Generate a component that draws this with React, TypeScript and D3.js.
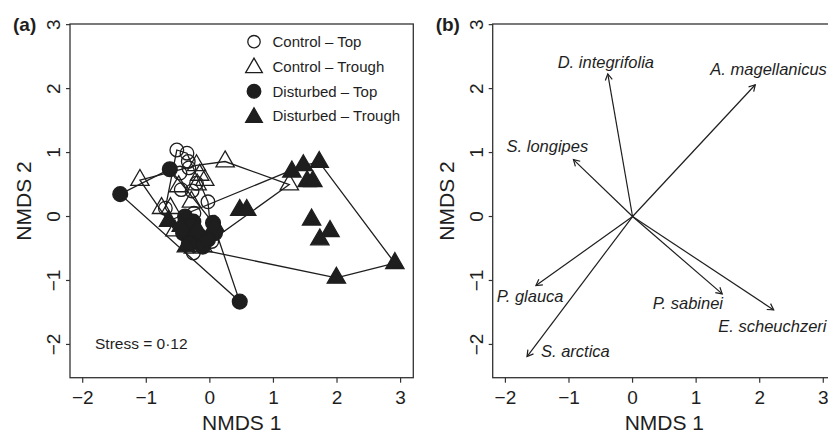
import React from 'react';
import * as d3 from 'd3';

// NMDS scores
const controlTop: [number, number][] = [
  [-0.52, 1.04], [-0.36, 0.99], [-0.34, 0.86], [-0.47, 0.68], [-0.33, 0.76],
  [-0.21, 0.52], [-0.45, 0.42], [-0.28, 0.40], [-0.03, 0.23], [-0.70, 0.13],
  [-0.25, 0.05], [0.03, -0.39], [-0.26, -0.57], [-0.15, -0.30],
];
const controlTrough: [number, number][] = [
  [-1.10, 0.57], [0.24, 0.86], [1.25, 0.50], [-0.21, 0.80], [-0.08, 0.57],
  [-0.16, 0.65], [-0.20, 0.50], [-0.49, 0.47], [-0.29, 0.23], [-0.76, 0.13],
  [-0.62, 0.13], [-0.26, -0.49], [-0.11, -0.47], [-0.55, -0.22],
];
const disturbedTop: [number, number][] = [
  [-1.41, 0.35], [-0.63, 0.74], [0.47, -1.33], [0.05, -0.10], [-0.39, 0.00],
  [-0.26, -0.08], [-0.42, -0.26], [-0.21, -0.31], [0.08, -0.26], [-0.11, -0.47],
  [-0.03, -0.36], [-0.33, -0.42], [-0.30, -0.15],
];
const disturbedTrough: [number, number][] = [
  [-0.65, -0.07], [-0.45, -0.15], [-0.37, -0.47], [-0.20, -0.20], [0.08, -0.15],
  [0.47, 0.10], [0.58, 0.10], [1.29, 0.70], [1.47, 0.80], [1.72, 0.85],
  [1.53, 0.55], [1.62, 0.55], [1.60, -0.05], [1.89, -0.23], [1.73, -0.36],
  [1.99, -0.96], [2.91, -0.73],
];

const groupNames = ['Control – Top', 'Control – Trough', 'Disturbed – Top', 'Disturbed – Trough'];
const groupPoints = [controlTop, controlTrough, disturbedTop, disturbedTrough];
const groupShapes = ['circle', 'triangle', 'circle', 'triangle'];
const groupFilled = [false, false, true, true];

// species vectors, panel (b)
const species = ['D. integrifolia', 'A. magellanicus', 'S. longipes', 'P. glauca', 'S. arctica', 'P. sabinei', 'E. scheuchzeri'];
const vecX = [-0.39, 1.93, -0.93, -1.52, -1.66, 1.41, 2.22];
const vecY = [2.23, 2.06, 0.89, -1.08, -2.19, -1.21, -1.46];
const labX = [-0.42, 2.14, -1.34, -1.61, -0.90, 0.87, 2.20];
const labY = [2.41, 2.30, 1.09, -1.25, -2.11, -1.36, -1.72];

const ticks = [-2, -1, 0, 1, 2, 3];
const xDomain: [number, number] = [-2.2, 3.2];
const yDomain: [number, number] = [-2.52, 3.01];

const FONT = '"Liberation Sans", Arial, Helvetica, sans-serif';
const INK = '#1e1e1e';
const top = 24, bottom = 377.7, panelW = 343.3;

function trianglePath(cx: number, cy: number, s: number) {
  // R's pch 2 triangle geometry
  const r = 1.5551 * s, xc = 1.3468 * s, yc = 0.7776 * s;
  return `M${cx},${cy - r}L${cx + xc},${cy + yc}L${cx - xc},${cy + yc}Z`;
}

function Marker({ x, y, shape, filled, s }: { x: number; y: number; shape: string; filled: boolean; s: number }) {
  const common = { fill: filled ? INK : 'none', stroke: INK, strokeWidth: 1.3 };
  if (shape === 'circle') return <circle cx={x} cy={y} r={filled ? s + 0.6 : s} {...common} />;
  return <path d={trianglePath(x, y, s)} {...common} />;
}

function Frame({ left, label, x, y }: { left: number; label: string; x: d3.ScaleLinear<number, number>; y: d3.ScaleLinear<number, number> }) {
  const cx = left + panelW / 2;
  return (
    <g fontFamily={FONT} fill={INK}>
      <rect x={left} y={top} width={panelW} height={bottom - top} fill="none" stroke="#333" strokeWidth={1.3} />
      {ticks.map(t => (
        <g key={'x' + t}>
          <line x1={x(t)} x2={x(t)} y1={bottom} y2={bottom + 5} stroke="#333" strokeWidth={1.2} />
          <text x={x(t)} y={403.5} textAnchor="middle" fontSize={19}>{t < 0 ? '−' + Math.abs(t) : t}</text>
        </g>
      ))}
      {ticks.map(t => (
        <g key={'y' + t}>
          <line x1={left} x2={left - 4} y1={y(t)} y2={y(t)} stroke="#333" strokeWidth={1.2} />
          <text transform={`translate(${left - 10},${y(t)}) rotate(-90)`} textAnchor="middle" fontSize={19}>{t < 0 ? '−' + Math.abs(t) : t}</text>
        </g>
      ))}
      <text x={cx} y={430} textAnchor="middle" fontSize={21}>NMDS 1</text>
      <text transform={`translate(${left - 39},${201}) rotate(-90)`} textAnchor="middle" fontSize={21}>NMDS 2</text>
      <text x={left - 57} y={31} fontSize={19} fontWeight="bold">{label}</text>
    </g>
  );
}

function PanelA() {
  const left = 70;
  const x = d3.scaleLinear().domain(xDomain).range([left, left + panelW]);
  const y = d3.scaleLinear().domain(yDomain).range([bottom, top]);
  const hulls = groupPoints.map(pts => d3.polygonHull(pts.map(p => [x(p[0]), y(p[1])] as [number, number])));
  const legendY = [41.7, 66.3, 91.3, 116];
  return (
    <g>
      <Frame left={left} label="(a)" x={x} y={y} />
      {hulls.map((h, i) => h && (
        <path key={'h' + i} d={'M' + h.join('L') + 'Z'} fill="none" stroke={INK} strokeWidth={1.3} />
      ))}
      {groupPoints.map((pts, gi) => pts.map((p, i) => (
        <Marker key={gi + '-' + i} x={x(p[0])} y={y(p[1])} shape={groupShapes[gi]} filled={groupFilled[gi]} s={6.8} />
      )))}
      {groupNames.map((n, i) => (
        <g key={n}>
          <Marker x={254} y={legendY[i] + (groupShapes[i] === 'triangle' ? 1.5 : 0)} shape={groupShapes[i]} filled={groupFilled[i]} s={6.2} />
          <text x={272.5} y={legendY[i] + 5.4} fontFamily={FONT} fontSize={15} fill={INK}>{n}</text>
        </g>
      ))}
      <text x={95} y={348.5} fontFamily={FONT} fontSize={15.5} fill={INK}>Stress = 0·12</text>
    </g>
  );
}

function PanelB() {
  const left = 492.7;
  const x = d3.scaleLinear().domain(xDomain).range([left, left + panelW]);
  const y = d3.scaleLinear().domain(yDomain).range([bottom, top]);
  const ox = x(0), oy = y(0);
  const head = 7, ang = Math.PI / 6;
  return (
    <g>
      <Frame left={left} label="(b)" x={x} y={y} />
      {species.map((sp, i) => {
        const tx = x(vecX[i]), ty = y(vecY[i]);
        const a = Math.atan2(ty - oy, tx - ox);
        const h1 = [tx - head * Math.cos(a - ang), ty - head * Math.sin(a - ang)];
        const h2 = [tx - head * Math.cos(a + ang), ty - head * Math.sin(a + ang)];
        return (
          <g key={sp} stroke={INK} strokeWidth={1.2} fill="none">
            <line x1={ox} y1={oy} x2={tx} y2={ty} />
            <path d={`M${h1[0]},${h1[1]}L${tx},${ty}L${h2[0]},${h2[1]}`} />
            <text x={x(labX[i])} y={y(labY[i]) + 5.5} textAnchor="middle" fontFamily={FONT} fontSize={16.5}
              fontStyle="italic" fill={INK} stroke="none">{sp}</text>
          </g>
        );
      })}
    </g>
  );
}

export default function App() {
  return (
    <svg width={828} height={433} style={{ position: 'absolute', left: 0, top: 0, background: '#fff' }}>
      <rect width={828} height={433} fill="#fff" />
      <PanelA />
      <PanelB />
    </svg>
  );
}
